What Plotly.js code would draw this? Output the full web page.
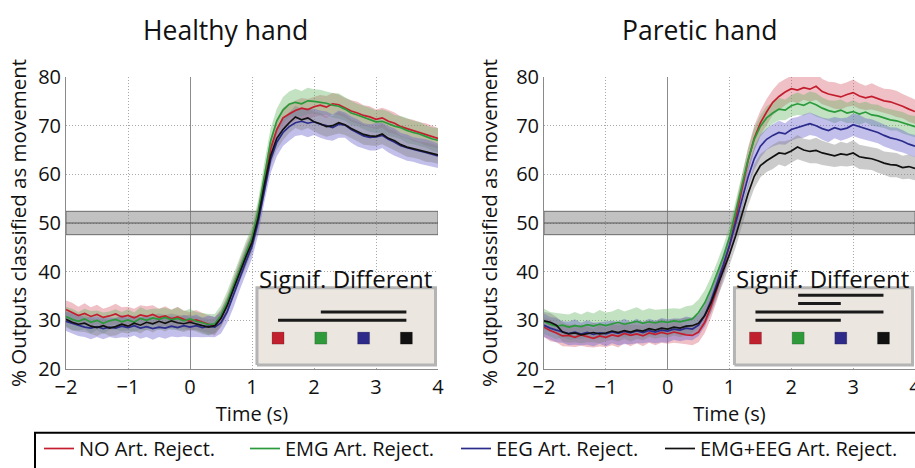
<!DOCTYPE html>
<html><head><meta charset="utf-8">
<script src="https://cdn.plot.ly/plotly-3.0.1.min.js"></script>
<style>html,body{margin:0;padding:0;background:#fff;}#chart{width:915px;height:468px;}</style>
</head><body><div id="chart"></div>
<script>
// ---------- data ----------
const time = [-2.0,-1.9,-1.8,-1.7,-1.6,-1.5,-1.4,-1.3,-1.2,-1.1,
 -1.0,-0.9,-0.8,-0.7,-0.6,-0.5,-0.4,-0.3,-0.2,-0.1,
 0.0,0.1,0.2,0.3,0.4,0.5,0.6,0.7,0.8,0.9,
 1.0,1.1,1.2,1.3,1.4,1.5,1.6,1.7,1.8,1.9,
 2.0,2.1,2.2,2.3,2.4,2.5,2.6,2.7,2.8,2.9,
 3.0,3.1,3.2,3.3,3.4,3.5,3.6,3.7,3.8,3.9,
 4.0];

const conditions = ["NO Art. Reject.", "EMG Art. Reject.", "EEG Art. Reject.", "EMG+EEG Art. Reject."];
const panelTitles = ["Healthy hand", "Paretic hand"];

// Healthy hand means
const healthyNo = [32.2,31.6,31.0,31.4,30.8,31.2,30.6,30.9,31.3,30.7,
 31.0,30.5,31.1,30.8,31.2,30.6,30.9,30.3,30.7,30.2,
 29.8,30.1,29.6,29.2,28.8,30.5,33.2,36.8,40.2,43.4,
 46.6,51.8,58.9,65.2,69.2,71.6,72.4,73.1,73.6,73.3,
 73.9,74.2,73.8,74.5,74.3,73.7,73.0,72.6,72.1,71.8,
 71.3,71.6,70.9,70.5,69.8,69.4,69.0,68.6,68.2,67.8,
 67.4];
const healthyEmg = [30.8,30.2,29.8,30.3,29.6,30.0,29.4,29.9,30.2,29.7,
 30.1,29.6,30.4,30.0,30.5,30.2,30.6,30.1,30.4,29.9,
 30.3,29.8,29.5,29.1,29.3,31.0,33.8,37.2,40.6,43.8,
 47.0,52.4,60.0,66.8,71.0,73.2,74.4,74.8,74.5,75.1,
 75.0,74.8,74.6,74.2,74.0,73.4,72.6,72.2,71.7,71.2,
 70.8,70.9,70.4,69.9,69.6,69.0,68.6,68.3,67.8,67.3,
 67.0];
const healthyEeg = [29.8,29.4,29.0,28.6,28.4,28.7,28.3,28.6,28.4,28.8,
 28.5,28.9,28.4,28.7,28.3,28.6,28.4,28.8,28.5,28.9,
 28.6,28.9,28.5,28.8,28.6,29.5,31.8,35.0,38.6,42.0,
 45.2,50.2,57.0,63.0,66.6,68.6,69.8,70.6,70.9,70.5,
 70.8,70.3,70.0,69.6,70.3,70.1,69.2,68.5,67.9,67.6,
 67.7,68.0,67.2,66.6,65.9,65.5,65.1,64.8,64.5,64.2,
 63.8];
const healthyBoth = [30.2,29.6,29.2,29.4,28.8,28.5,28.9,28.4,28.7,29.2,
 28.8,29.4,29.0,29.6,29.3,29.8,29.4,29.9,29.5,29.3,
 29.6,29.2,28.9,28.6,28.9,30.4,33.0,36.4,39.8,43.0,
 46.0,51.0,57.8,63.8,67.4,69.2,70.6,71.8,71.2,71.6,
 70.8,70.4,69.8,70.0,70.6,70.2,69.4,68.8,68.2,67.9,
 67.8,68.3,67.4,66.9,66.1,65.6,65.3,64.9,64.6,64.4,
 64.0];
// Healthy hand half-widths of shaded bands
const healthyNoErr = [1.9,2.0,1.8,2.1,1.9,2.0,1.8,1.9,2.1,2.0,
 1.8,1.9,2.0,2.1,1.9,1.8,2.0,1.9,2.1,1.8,
 1.9,2.0,1.9,1.8,1.9,1.8,1.9,2.0,2.0,2.1,
 2.0,2.1,2.2,2.3,2.2,2.1,2.2,2.0,2.1,2.2,
 2.0,2.1,2.3,2.2,2.1,2.0,2.2,2.3,2.1,2.2,
 2.0,2.1,2.3,2.2,2.1,2.0,2.2,2.1,2.3,2.2,
 2.1];
const healthyEmgErr = [2.0,2.2,1.9,2.1,2.3,2.0,2.2,1.9,2.1,2.0,
 2.2,2.0,2.3,2.1,1.9,2.2,2.0,2.1,2.3,2.0,
 2.1,1.9,2.0,2.2,2.0,2.1,2.2,2.3,2.2,2.4,
 2.3,2.4,2.5,2.6,2.5,2.7,2.6,2.8,2.6,2.7,
 2.5,2.6,2.4,2.5,2.6,2.4,2.5,2.3,2.4,2.5,
 2.3,2.4,2.5,2.3,2.4,2.6,2.4,2.5,2.3,2.4,
 2.5];
const healthyEegErr = [2.0,2.1,2.2,2.0,2.3,2.1,2.2,2.0,2.1,2.3,
 2.1,2.0,2.2,2.1,2.3,2.0,2.2,2.1,2.0,2.2,
 2.1,2.3,2.0,2.2,2.1,2.2,2.3,2.4,2.4,2.5,
 2.5,2.6,2.7,2.8,2.9,2.8,2.9,2.7,2.8,2.9,
 2.7,2.8,2.9,2.7,2.8,2.6,2.7,2.8,2.6,2.7,
 2.8,2.6,2.7,2.8,2.6,2.7,2.5,2.6,2.7,2.6,
 2.5];
const healthyBothErr = [1.6,1.7,1.5,1.8,1.6,1.7,1.5,1.6,1.8,1.7,
 1.5,1.6,1.7,1.5,1.8,1.6,1.7,1.5,1.6,1.7,
 1.6,1.5,1.7,1.6,1.5,1.7,1.8,1.9,2.0,2.0,
 2.1,2.0,2.2,2.1,2.3,2.2,2.1,2.3,2.2,2.1,
 2.0,2.2,2.1,2.0,2.2,2.1,1.9,2.0,2.1,1.9,
 2.0,2.1,1.9,2.0,1.8,2.0,1.9,1.8,2.0,1.9,
 1.8];

// Paretic hand means
const pareticNo = [28.6,27.9,27.4,26.8,26.9,26.5,27.0,26.6,26.3,26.8,
 26.5,27.0,26.7,27.3,26.9,27.2,26.8,27.4,27.1,27.5,
 27.2,27.6,27.3,27.0,26.9,27.6,29.6,32.8,36.6,40.8,
 45.4,51.0,57.2,62.8,67.4,70.6,72.8,74.8,76.0,76.9,
 77.6,77.3,77.8,77.5,78.1,77.0,76.5,76.2,75.9,76.4,
 76.8,76.1,75.7,76.0,75.5,75.1,74.9,74.5,74.0,73.4,
 72.9];
const pareticEmg = [29.8,29.2,28.8,29.0,28.6,28.9,28.7,29.1,28.8,29.2,
 28.9,29.3,29.6,29.2,29.5,29.8,29.4,29.7,29.5,29.8,
 29.6,29.9,29.7,30.0,30.3,31.6,33.6,36.4,39.6,43.0,
 47.0,52.2,57.8,63.0,67.2,69.9,71.6,72.6,73.4,73.2,
 74.1,74.5,74.2,74.8,74.3,73.6,73.1,72.8,73.2,72.6,
 72.9,72.4,72.8,72.2,72.0,71.6,71.2,71.0,70.6,70.1,
 69.8];
const pareticEeg = [29.0,28.4,28.0,27.6,27.3,27.6,27.2,27.5,27.1,27.4,
 27.2,27.6,27.3,27.7,27.4,27.8,27.5,27.9,27.6,28.0,
 27.8,28.2,28.0,28.4,28.2,29.0,31.0,34.0,37.6,41.4,
 45.4,50.0,54.8,59.4,63.2,65.8,67.2,68.0,68.6,68.3,
 69.2,69.6,69.9,70.4,70.0,69.4,69.0,69.6,69.2,69.5,
 70.2,69.8,69.3,69.0,68.6,68.0,67.5,67.2,66.8,66.2,
 65.8];
const pareticBoth = [29.9,29.6,29.0,27.6,27.2,27.4,27.0,27.3,27.5,27.2,
 27.4,27.8,27.5,27.9,27.6,28.0,27.8,28.3,28.0,28.4,
 28.2,28.6,28.4,28.8,28.9,29.4,31.0,33.6,36.8,40.0,
 43.6,47.4,51.6,56.0,59.6,61.8,62.8,63.6,64.4,64.2,
 64.8,65.6,65.0,64.7,64.9,64.4,64.1,63.8,64.2,64.0,
 64.4,63.6,63.4,63.2,62.8,62.3,62.0,61.9,61.4,61.6,
 61.2];
const pareticNoErr = [2.0,2.2,1.9,2.1,2.3,2.0,2.2,2.1,1.9,2.2,
 2.0,2.1,2.3,2.0,2.2,1.9,2.1,2.0,2.2,2.1,
 2.0,2.2,2.1,1.9,2.0,2.1,2.2,2.3,2.4,2.4,
 2.5,2.6,2.5,2.7,2.6,2.5,2.7,2.6,2.8,2.7,
 2.6,2.7,2.5,2.6,2.8,2.6,2.5,2.7,2.6,2.5,
 2.7,2.6,2.5,2.7,2.6,2.5,2.6,2.7,2.5,2.6,
 2.5];
const pareticEmgErr = [2.6,2.5,2.7,2.4,2.6,2.8,2.5,2.7,2.6,2.9,
 2.7,2.5,2.8,2.6,2.7,2.9,2.6,2.8,2.7,2.5,
 2.8,2.6,2.7,2.9,2.8,2.7,2.6,2.5,2.4,2.4,
 2.3,2.4,2.3,2.2,2.3,2.2,2.4,2.2,2.3,2.1,
 2.2,2.3,2.1,2.2,2.4,2.2,2.1,2.3,2.2,2.1,
 2.3,2.2,2.1,2.2,2.3,2.1,2.2,2.0,2.2,2.1,
 2.2];
const pareticEegErr = [2.4,2.3,2.5,2.2,2.4,2.6,2.3,2.5,2.4,2.2,
 2.5,2.3,2.4,2.6,2.3,2.5,2.2,2.4,2.3,2.5,
 2.4,2.2,2.3,2.4,2.3,2.2,2.3,2.4,2.3,2.4,
 2.3,2.4,2.3,2.2,2.3,2.4,2.2,2.3,2.4,2.2,
 2.3,2.2,2.4,2.3,2.2,2.3,2.4,2.2,2.3,2.2,
 2.3,2.4,2.2,2.3,2.2,2.3,2.2,2.4,2.3,2.2,
 2.3];
const pareticBothErr = [1.8,1.9,1.7,2.0,1.8,1.9,1.7,1.8,2.0,1.9,
 1.7,1.8,1.9,1.7,2.0,1.8,1.9,1.7,1.8,1.9,
 1.8,1.7,1.9,1.8,1.7,1.9,2.0,2.1,2.2,2.3,
 2.3,2.4,2.3,2.4,2.5,2.4,2.3,2.5,2.4,2.6,
 2.4,2.5,2.3,2.4,2.6,2.5,2.4,2.3,2.5,2.4,
 2.6,2.5,2.4,2.3,2.5,2.4,2.6,2.5,2.4,2.5,
 2.4];

// Chance level band
const chanceLevel = 50;
const chanceLow = 47.6;
const chanceHigh = 52.4;

// Significant differences between conditions (1-based condition indices)
const sigPairsHealthy = [[2,4],[1,4]];
const sigPairsParetic = [[2,4],[2,3],[1,4],[1,3]];

const xTickVals = [-2,-1,0,1,2,3,4];
const yTickVals = [20,30,40,50,60,70,80];

// ---------- styles ----------
const FONT = "Open Sans, Noto Sans, sans-serif";
const lineColors = ["#c41e2e","#2a9a3a","#2b2b8c","#111111"];
const bandColors = ["rgba(214,90,105,0.38)","rgba(95,180,95,0.38)","rgba(105,95,205,0.40)","rgba(130,130,130,0.42)"];
const squareColors = ["#c1202e","#2e9a3a","#2e2a8a","#111111"];
const slotX = [1.42, 2.11, 2.80, 3.49];   // inset layout positions
const squareY = 26.35, sigBaseY = 30.0, sigStepY = 1.72;
const insetBox = {x0:1.08, x1:3.96, y0:20.8, y1:36.7};
const xMin = -2, xMax = 4;

const panels = [
  {xa:"x", ya:"y", means:[healthyNo,healthyEmg,healthyEeg,healthyBoth], errs:[healthyNoErr,healthyEmgErr,healthyEegErr,healthyBothErr], sig:sigPairsHealthy, legend:true},
  {xa:"x2", ya:"y2", means:[pareticNo,pareticEmg,pareticEeg,pareticBoth], errs:[pareticNoErr,pareticEmgErr,pareticEegErr,pareticBothErr], sig:sigPairsParetic, legend:false}
];
const legendIds = ["legend","legend2","legend3","legend4"];

const traces = [];
panels.forEach(p => {
  const common = {xaxis:p.xa, yaxis:p.ya, hoverinfo:"skip", showlegend:false};
  // chance-level band
  traces.push(Object.assign({x:[xMin,xMax,xMax,xMin,xMin], y:[chanceLow,chanceLow,chanceHigh,chanceHigh,chanceLow],
    mode:"lines", fill:"toself", fillcolor:"rgba(120,120,120,0.46)", line:{color:"#6a6a6a", width:1}}, common));
  traces.push(Object.assign({x:[xMin,xMax], y:[chanceLevel,chanceLevel], mode:"lines", line:{color:"#555", width:1}}, common));
  // shaded bands
  p.means.forEach((m, c) => {
    const up = m.map((v,i) => v + p.errs[c][i]);
    const lo = m.map((v,i) => v - p.errs[c][i]);
    traces.push(Object.assign({x: time.concat(time.slice().reverse()), y: up.concat(lo.slice().reverse()),
      fill:"toself", fillcolor: bandColors[c], line:{width:0}, mode:"lines"}, common));
  });
  // mean lines
  p.means.forEach((m, c) => {
    traces.push({x: time, y: m, mode:"lines", name: conditions[c], legend: legendIds[c],
      showlegend: p.legend, line:{color: lineColors[c], width:1.7}, xaxis:p.xa, yaxis:p.ya});
  });
  // inset box
  traces.push(Object.assign({x:[insetBox.x0,insetBox.x1,insetBox.x1,insetBox.x0,insetBox.x0],
    y:[insetBox.y0,insetBox.y0,insetBox.y1,insetBox.y1,insetBox.y0], mode:"lines", fill:"toself",
    fillcolor:"#ebe6e0", line:{color:"#b4b4b4", width:3}}, common));
  // significance bars
  const n = p.sig.length;
  p.sig.forEach((pair, k) => {
    const yy = sigBaseY + (n-1-k)*sigStepY;
    traces.push(Object.assign({x:[slotX[pair[0]-1], slotX[pair[1]-1]], y:[yy,yy], mode:"lines",
      line:{color:"#1a1a1a", width:3}}, common));
  });
  // condition squares
  traces.push(Object.assign({x: slotX, y: slotX.map(() => squareY), mode:"markers",
    marker:{symbol:"square", size:12, color: squareColors, line:{color:"rgba(0,0,0,0.35)", width:0.5}}}, common));
});

const plotW = 915 - 66, plotH = 293;
const px2x = (px) => (px - 66) / plotW;
const py2y = (py) => (370 - py) / plotH;
const GRID = "1px,2px";
const axBase = (dom, anchor) => ({
  domain: dom, range:[xMin,xMax], tickvals: xTickVals, ticks:"", showline:true, linecolor:"#8a8a8a", linewidth:1,
  showgrid:true, gridcolor:"#a8a8a8", griddash:GRID, gridwidth:1, anchor: anchor,
  zeroline:true, zerolinecolor:"#8c8c8c", zerolinewidth:1, ticklabeloverflow:"allow",
  tickfont:{family:FONT, size:20, color:"#111"}, fixedrange:true,
  title:{text:"Time (s)", font:{family:FONT, size:20, color:"#111"}, standoff:3}
});
const ayBase = (standoff, anchor) => ({
  range:[20,80], tickvals: yTickVals, ticks:"", showline:true, linecolor:"#8a8a8a", linewidth:1,
  showgrid:true, gridcolor:"#a8a8a8", griddash:GRID, gridwidth:1, zeroline:false, anchor: anchor,
  tickfont:{family:FONT, size:20, color:"#111"}, fixedrange:true,
  title:{text:"% Outputs classified as movement", font:{family:FONT, size:20.5, color:"#111"}, standoff: standoff}
});

const annotations = [
  {text: panelTitles[0], xref:"paper", yref:"paper", x:px2x(225), y:py2y(30), showarrow:false,
   xanchor:"center", yanchor:"middle", font:{family:FONT, size:26.5, color:"#111"}},
  {text: panelTitles[1], xref:"paper", yref:"paper", x:px2x(700), y:py2y(30), showarrow:false,
   xanchor:"center", yanchor:"middle", font:{family:FONT, size:26.5, color:"#111"}},
  {text:"Signif. Different", xref:"x", yref:"y", x:2.51, y:38.6, showarrow:false, xanchor:"center", yanchor:"middle",
   font:{family:FONT, size:24, color:"#111"}},
  {text:"Signif. Different", xref:"x2", yref:"y2", x:2.50, y:38.6, showarrow:false, xanchor:"center", yanchor:"middle",
   font:{family:FONT, size:24, color:"#111"}}
];

// legend frame (the frame runs past the picture edge, as in the reference)
const shapes = [
  {type:"rect", xref:"paper", yref:"paper", x0:px2x(35), x1:px2x(940), y0:py2y(434), y1:py2y(490),
   line:{color:"#000", width:2}, fillcolor:"rgba(0,0,0,0)", layer:"above"}
];

const legendLeft = [39, 245, 456, 660];
const layout = {
  width:915, height:468, margin:{l:66, r:0, t:77, b:98},
  paper_bgcolor:"#fff", plot_bgcolor:"#fff",
  xaxis: axBase([0, 372/plotW], "y"),
  xaxis2: axBase([478/plotW, 1], "y2"),
  yaxis: ayBase(5, "x"),
  yaxis2: ayBase(12, "x2"),
  shapes: shapes, annotations: annotations,
  showlegend:true
};
legendIds.forEach((id, i) => {
  layout[id] = {orientation:"h", x:px2x(legendLeft[i]), y:py2y(450), xanchor:"left", yanchor:"middle",
    borderwidth:0, bgcolor:"rgba(0,0,0,0)", itemwidth:30,
    font:{family:FONT, size:20, color:"#111"}};
});

Plotly.newPlot("chart", traces, layout, {displayModeBar:false, staticPlot:true});
</script></body></html>
